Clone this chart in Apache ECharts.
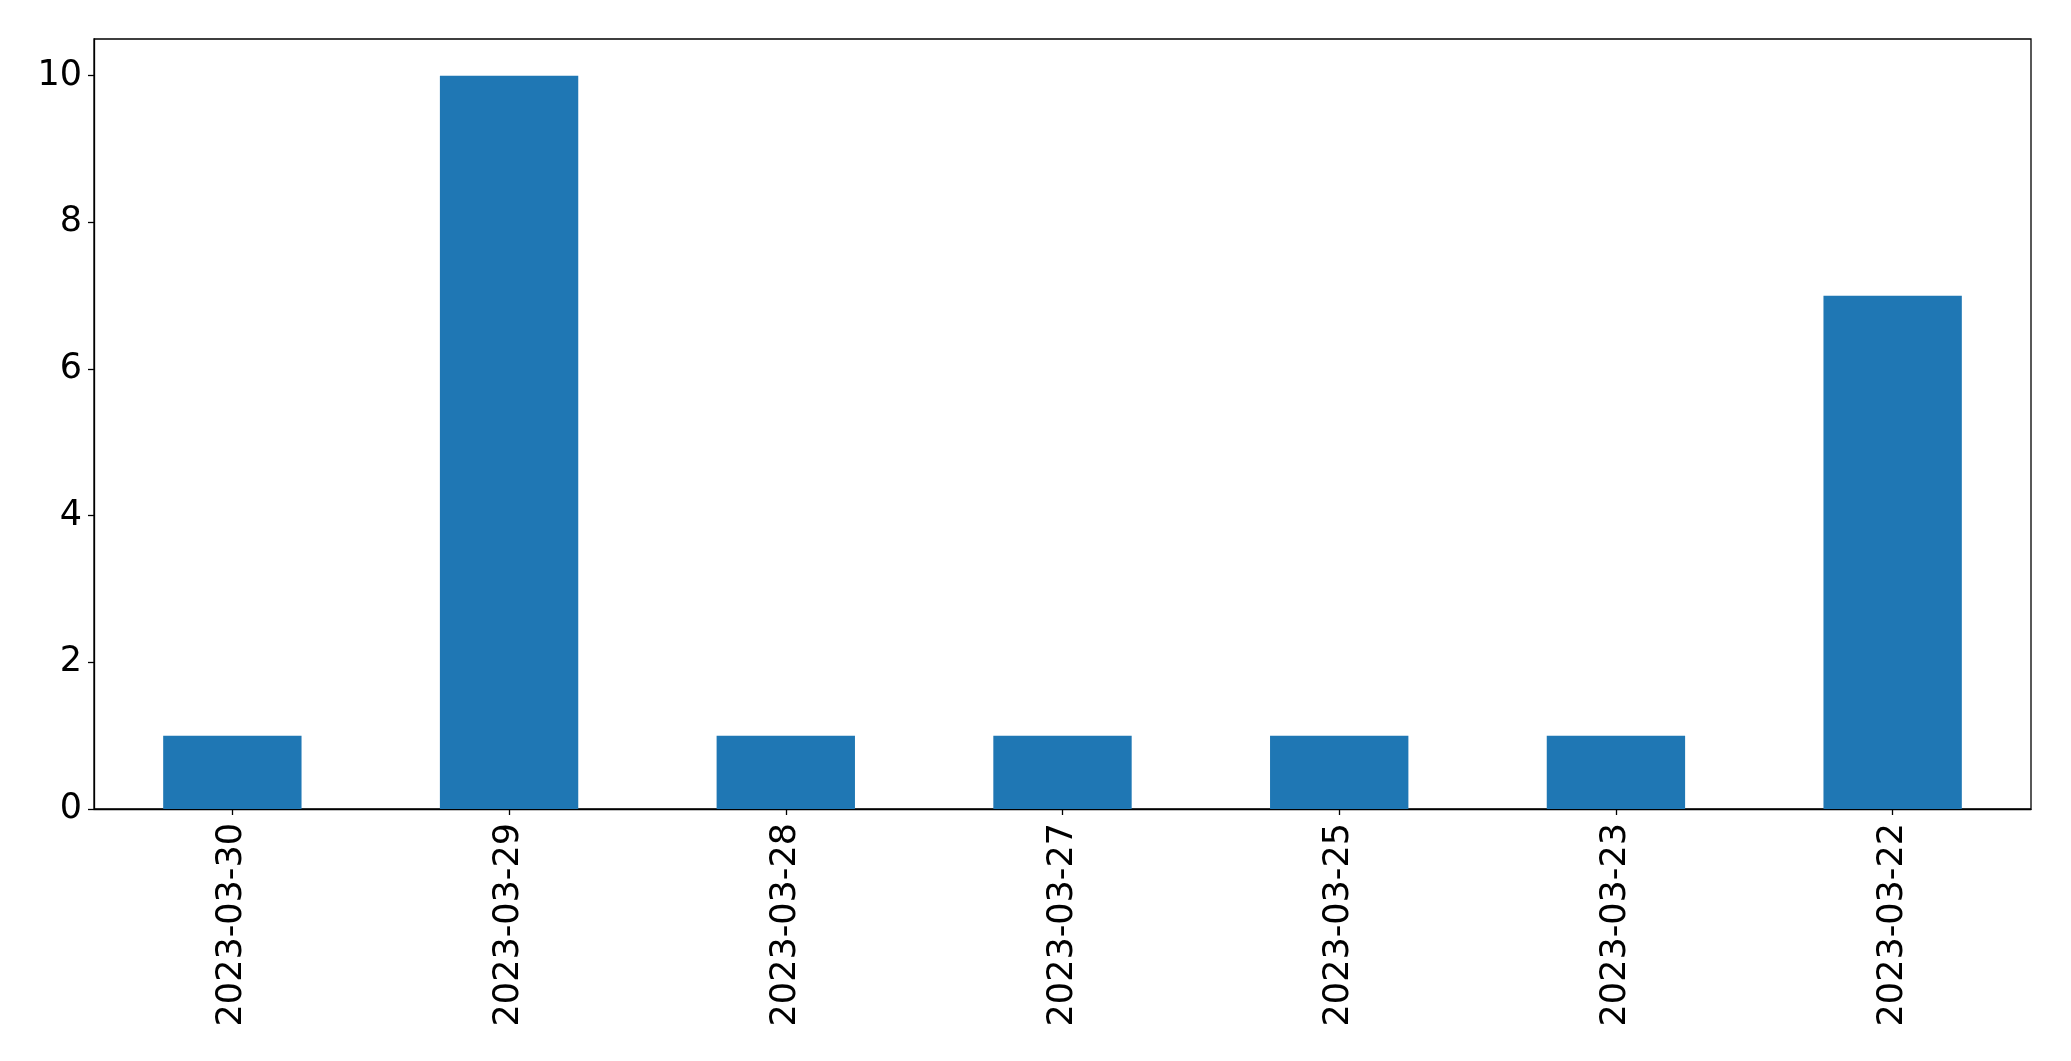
<!DOCTYPE html>
<html>
<head>
<meta charset="utf-8">
<script src="https://cdn.jsdelivr.net/npm/echarts@6/dist/echarts.min.js"></script>
<style>
html,body{margin:0;padding:0;background:#fff;}
#chart{width:2071px;height:1061px;}
</style>
</head>
<body>
<div id="chart"></div>
<script>
const categories = ['2023-03-30','2023-03-29','2023-03-28','2023-03-27','2023-03-25','2023-03-23','2023-03-22'];
const counts = [1, 10, 1, 1, 1, 1, 7];
const yTicks = [0, 2, 4, 6, 8, 10];

const chart = echarts.init(document.getElementById('chart'));
const font = 'DejaVu Sans';
chart.setOption({
  animation: false,
  backgroundColor: '#ffffff',
  grid: {
    left: 94, right: 40, top: 39, bottom: 252,
    show: true, borderColor: '#000', borderWidth: 1.3, containLabel: false
  },
  xAxis: {
    type: 'category',
    data: categories,
    boundaryGap: true,
    axisLine: { show: true, lineStyle: { color: '#000', width: 1.3 } },
    axisTick: { show: true, alignWithLabel: true, length: 6, lineStyle: { color: '#000', width: 1.3 } },
    axisLabel: { rotate: 90, margin: 14, color: '#000', fontSize: 35, fontFamily: font, interval: 0 },
    splitLine: { show: false }
  },
  yAxis: {
    type: 'value',
    min: 0, max: 10.5, interval: 2,
    axisLine: { show: true, lineStyle: { color: '#000', width: 1.3 } },
    axisTick: { show: true, length: 6, customValues: yTicks, lineStyle: { color: '#000', width: 1.3 } },
    axisLabel: { margin: 12, color: '#000', fontSize: 35, fontFamily: font, customValues: yTicks },
    splitLine: { show: false }
  },
  series: [{
    type: 'bar',
    data: counts,
    barWidth: '50%',
    itemStyle: { color: '#1f77b4' }
  }]
});
</script>
</body>
</html>
